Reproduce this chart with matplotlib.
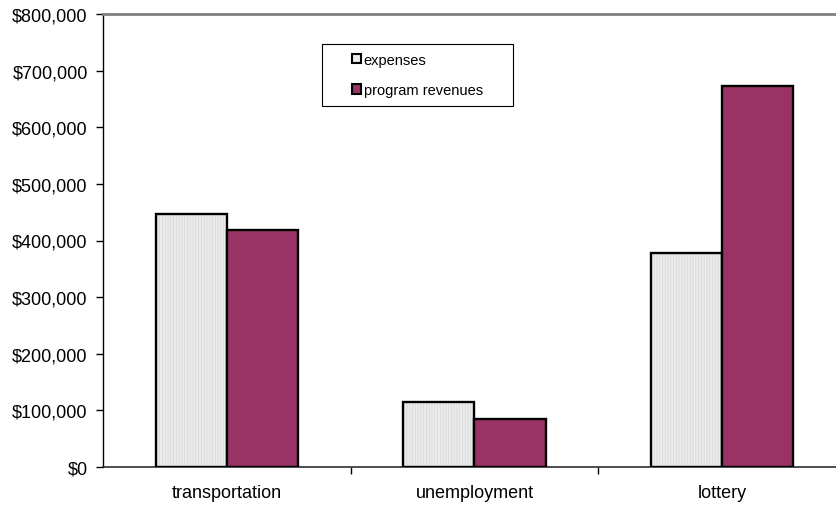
import numpy as np
import matplotlib.pyplot as plt
from matplotlib.patches import Patch, Rectangle

plt.rcParams['font.family'] = ['Liberation Sans', 'DejaVu Sans']
plt.rcParams['hatch.linewidth'] = 0.6

categories = ['transportation', 'unemployment', 'lottery']
expenses = [447000, 115000, 378000]
program_revenues = [419000, 85000, 673000]
y_ticks = [0, 100000, 200000, 300000, 400000, 500000, 600000, 700000, 800000]

exp_color = '#ececec'
rev_color = '#993366'

W, H = 836, 510
fig = plt.figure(figsize=(W / 100, H / 100), dpi=100)
ax = fig.add_axes([103 / W, 42 / H, 743 / W, 453 / H])

x = np.arange(len(categories))
w = 0.288

# expenses: light fill with faint vertical stripes, then black outline
ax.bar(x - w / 2, expenses, w, color=exp_color, edgecolor='#d8d8d8',
       hatch='||||||', linewidth=0, zorder=2)
ax.bar(x - w / 2, expenses, w, fill=False, edgecolor='black',
       linewidth=1.7, zorder=3)
ax.bar(x + w / 2, program_revenues, w, color=rev_color, edgecolor='black',
       linewidth=1.7, zorder=3)

ax.set_xlim(-0.5, len(categories) - 0.5)
ax.set_ylim(0, 800000)
ax.set_yticks(y_ticks)
ax.set_yticklabels(['${:,.0f}'.format(v) for v in y_ticks])
ax.set_xticks(x)
ax.set_xticklabels(categories)
ax.set_xticks(np.arange(0.5, len(categories) - 0.5), minor=True)

ax.tick_params(axis='y', direction='out', length=5, width=1, labelsize=13, pad=6)
ax.tick_params(axis='x', which='major', length=0, labelsize=13, pad=12)
ax.tick_params(axis='x', which='minor', direction='out', length=5, width=1)

ax.spines['right'].set_visible(False)
ax.spines['top'].set_color('#808080')
ax.spines['top'].set_linewidth(2)
ax.spines['left'].set_color('black')
ax.spines['bottom'].set_color('#303030')
ax.spines['left'].set_linewidth(1)
ax.spines['bottom'].set_linewidth(1.2)

# legend box drawn separately to match the wide Excel frame
fig.patches.append(Rectangle((322 / W, 1 - 107 / H), 191 / W, 62 / H,
                             transform=fig.transFigure, facecolor='white',
                             edgecolor='black', linewidth=0.8, zorder=4))

handles = [Patch(facecolor=exp_color, edgecolor='black', linewidth=1.5, label='expenses'),
           Patch(facecolor=rev_color, edgecolor='black', linewidth=1.5, label='program revenues')]
leg = fig.legend(handles=handles, loc='center left',
                 bbox_to_anchor=(352 / W, 1 - 76 / H),
                 fontsize=10.5, frameon=False,
                 handlelength=0.6, handleheight=0.6, handletextpad=0.2,
                 labelspacing=1.1, borderpad=0, borderaxespad=0)
leg.set_zorder(5)

fig.savefig('out.png', dpi=100)
